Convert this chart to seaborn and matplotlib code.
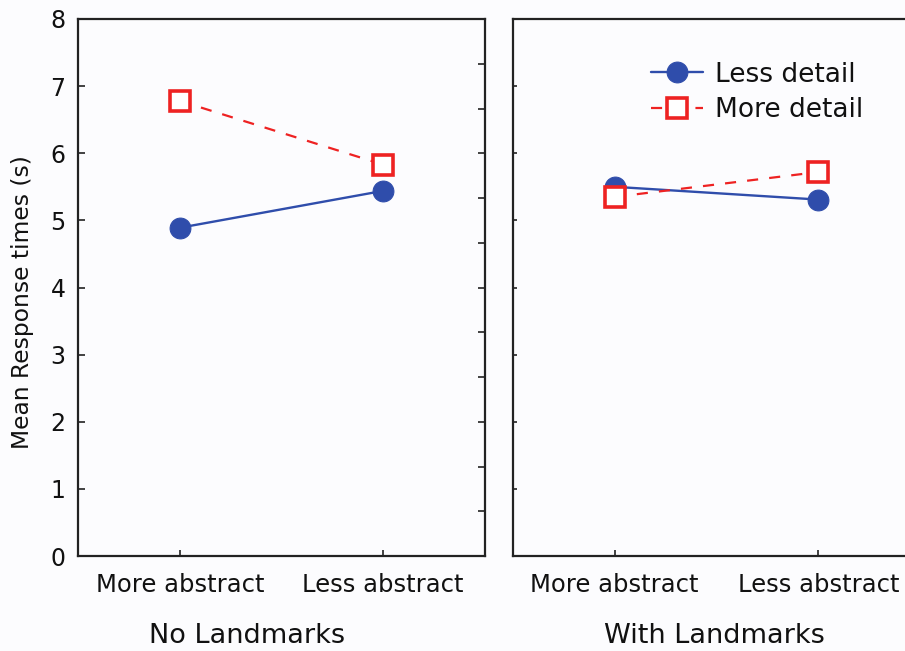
import matplotlib
matplotlib.use("Agg")
import matplotlib.pyplot as plt
import seaborn as sns
import pandas as pd
import numpy as np

categories = ["More abstract", "Less abstract"]
panels = ["No Landmarks", "With Landmarks"]
less_detail_no = [4.89, 5.44]
more_detail_no = [6.78, 5.83]
less_detail_with = [5.50, 5.31]
more_detail_with = [5.35, 5.72]
y_ticks = [0, 1, 2, 3, 4, 5, 6, 7, 8]

sns.set_theme(style="white")
plt.rcParams['font.family'] = ['DejaVu Sans']

BG = "#fcfcfe"
BLUE = "#2f4dab"
RED = "#ee2222"
TXT = "#111111"

fig = plt.figure(figsize=(9.05, 6.51), dpi=100, facecolor=BG)
W, H = 905, 651
def ax_rect(x0, x1, y0, y1):
    return [x0 / W, 1 - y1 / H, (x1 - x0) / W, (y1 - y0) / H]

ax1 = fig.add_axes(ax_rect(78, 485, 19, 556))
ax2 = fig.add_axes(ax_rect(513, 920, 19, 556))

data = {
    "No Landmarks": (less_detail_no, more_detail_no),
    "With Landmarks": (less_detail_with, more_detail_with),
}

for ax, panel in zip([ax1, ax2], panels):
    ax.set_facecolor(BG)
    less, more = data[panel]
    df_less = pd.DataFrame({"x": [0, 1], "y": less})
    df_more = pd.DataFrame({"x": [0, 1], "y": more})
    sns.lineplot(data=df_less, x="x", y="y", ax=ax, color=BLUE, lw=1.7,
                 marker="o", markersize=15, markerfacecolor=BLUE,
                 markeredgecolor=BLUE, label="Less detail", zorder=3)
    sns.lineplot(data=df_more, x="x", y="y", ax=ax, color=RED, lw=1.6,
                 linestyle=(0, (5, 5)), marker="s", markersize=15,
                 markerfacecolor="white", markeredgecolor=RED,
                 markeredgewidth=2.6, label="More detail", zorder=4)
    ax.set_xlim(-0.5, 1.5)
    ax.set_ylim(0, 8)
    ax.set_xticks([0, 1])
    ax.set_xticklabels(categories, fontsize=17.5, color=TXT)
    ax.set_xlabel("")
    ax.set_ylabel("")
    for s in ax.spines.values():
        s.set_visible(True)
        s.set_color("#222222")
        s.set_linewidth(1.6)
    ax.tick_params(axis="x", direction="in", length=4, width=1.2,
                   color="#222222", pad=12, bottom=True)
    if ax.get_legend():
        ax.get_legend().remove()

ax1.set_yticks(y_ticks)
ax1.set_yticklabels([str(v) for v in y_ticks], fontsize=17, color=TXT)
ax1.tick_params(axis="y", direction="in", length=5, width=1.2,
                color="#222222", left=True, pad=9)
ax1.set_ylabel("Mean Response times (s)", fontsize=16.8, color=TXT)
ax1.yaxis.set_label_coords(-0.108, 0.473)
ax1r = ax1.twinx()
ax1r.set_ylim(0, 8)
ax1r.set_yticks([k * 2 / 3 for k in range(1, 12)])
ax1r.tick_params(axis="y", direction="in", length=5, width=1.2,
                 color="#222222", right=True, labelright=False)
for s in ax1r.spines.values():
    s.set_visible(False)

ax2.set_yticks([1, 2, 3, 4, 5, 6, 7])
ax2.tick_params(axis="y", direction="in", length=3, width=1.2,
                color="#222222", left=True, labelleft=False)

handles, labels = ax2.get_legend_handles_labels()
leg = ax2.legend(handles, labels, loc="upper left", bbox_to_anchor=(0.28, 0.965),
                 frameon=False, fontsize=19, handlelength=2.0,
                 handletextpad=0.45, labelspacing=0.35)
for t in leg.get_texts():
    t.set_color(TXT)

fig.text(247 / W, 1 - 636 / H, panels[0], ha="center", va="center",
         fontsize=19.5, color=TXT)
fig.text(714 / W, 1 - 636 / H, panels[1], ha="center", va="center",
         fontsize=19.5, color=TXT)

fig.savefig("out.png", dpi=100, facecolor=BG)
